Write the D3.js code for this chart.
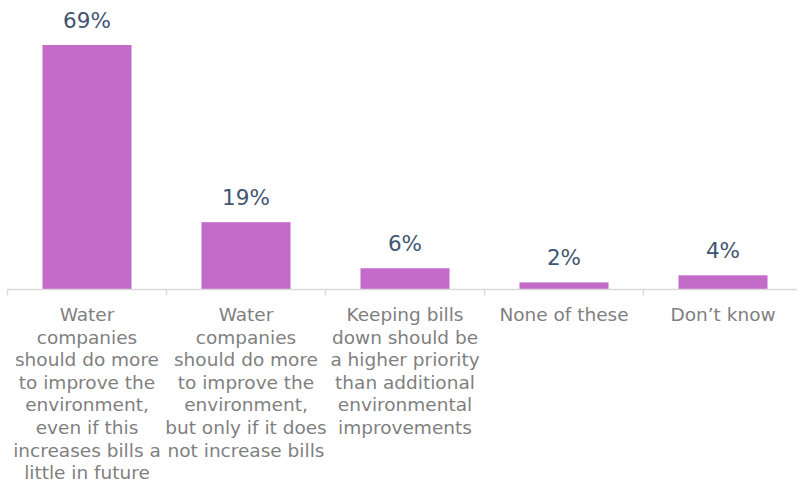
<!DOCTYPE html>
<html><head><meta charset="utf-8">
<script src="https://cdn.jsdelivr.net/npm/d3@7"></script>
<style>html,body{margin:0;padding:0;background:#fff;}</style>
</head><body>
<svg id="chart" width="797" height="482"></svg>
<script>
const categories = [
  "Water\ncompanies\nshould do more\nto improve the\nenvironment,\neven if this\nincreases bills a\nlittle in future",
  "Water\ncompanies\nshould do more\nto improve the\nenvironment,\nbut only if it does\nnot increase bills",
  "Keeping bills\ndown should be\na higher priority\nthan additional\nenvironmental\nimprovements",
  "None of these",
  "Don\u2019t know"
];
const values = [69, 19, 6, 2, 4];
const valueLabels = ["69%", "19%", "6%", "2%", "4%"];

const svg = d3.select("#chart");
const baseline = 289.5;
const x = d3.scaleBand().domain(d3.range(categories.length)).range([7.5, 802.5]).paddingInner(0.44).paddingOuter(0.22);
const y = d3.scaleLinear().domain([0, 69]).range([baseline, 45]);
const font = "'DejaVu Sans', sans-serif";

svg.selectAll("rect.bar").data(values).enter().append("rect")
  .attr("class", "bar")
  .attr("x", (d, i) => x(i))
  .attr("width", x.bandwidth())
  .attr("y", d => y(d))
  .attr("height", d => baseline - y(d))
  .attr("fill", "#C36BC9");

const step = x.step();
const edges = d3.range(categories.length + 1).map(i => 7.5 + i * step);
svg.append("line").attr("x1", 7.5).attr("x2", 797).attr("y1", baseline).attr("y2", baseline)
  .attr("stroke", "#D9D9D9").attr("stroke-width", 1.5);
svg.selectAll("line.tick").data(edges).enter().append("line")
  .attr("class", "tick")
  .attr("x1", d => d).attr("x2", d => d)
  .attr("y1", baseline).attr("y2", baseline + 6)
  .attr("stroke", "#D9D9D9").attr("stroke-width", 1.5);

svg.selectAll("text.val").data(values).enter().append("text")
  .attr("class", "val")
  .attr("x", (d, i) => x(i) + x.bandwidth() / 2)
  .attr("y", d => y(d) - 17)
  .attr("text-anchor", "middle")
  .attr("font-family", font)
  .attr("font-size", 21.5)
  .attr("fill", "#3F5570")
  .text((d, i) => valueLabels[i]);

categories.forEach((c, i) => {
  const t = svg.append("text")
    .attr("text-anchor", "middle")
    .attr("font-family", font)
    .attr("font-size", 18.5)
    .attr("fill", "#7F7F7F");
  c.split("\n").forEach((line, j) => {
    t.append("tspan")
      .attr("x", x(i) + x.bandwidth() / 2)
      .attr("y", 321 + j * 22.6)
      .text(line);
  });
});
</script>
</body></html>
